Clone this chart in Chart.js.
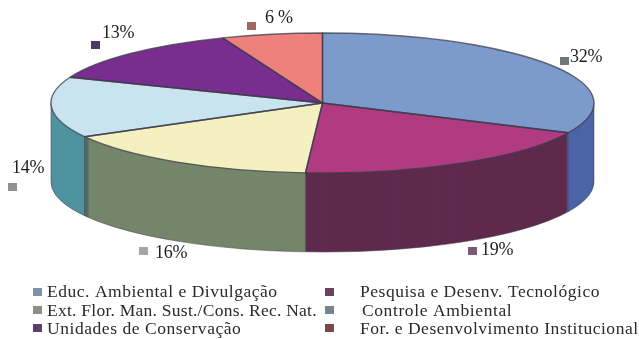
<!DOCTYPE html>
<html>
<head>
<meta charset="utf-8">
<script src="https://cdn.jsdelivr.net/npm/chart.js@4"></script>
<style>
html,body{margin:0;padding:0;background:#fff}
canvas{display:block}
</style>
</head>
<body>
<canvas id="pie" width="639" height="339"></canvas>
<script>
// Program areas and their share of the total (percent)
const categories = [
  'Educ. Ambiental e Divulgação',
  'Pesquisa e Desenv. Tecnológico',
  'Ext. Flor. Man. Sust./Cons. Rec. Nat.',
  'Controle Ambiental',
  'Unidades de Conservação',
  'For. e Desenvolvimento Institucional'
];
const shares = [32, 19, 16, 14, 13, 6];
const valueLabels = ['32%', '19%', '16%', '14%', '13%', '6 %'];

const topColors = ['#7c9bcc', '#b03b80', '#f4f0bf', '#c9e4ee', '#792d8e', '#ef817d'];
const wallColors = ['#4c64a8', '#5f2a4d', '#75866a', '#4f93a0', '#4a2460', '#a05050'];

// Tilted disc geometry
const DISC = {cx: 322.5, cy: 103, rx: 271.5, ry: 70, depth: 79};

// Where each value label and its marker sit
const LABEL_POS = [
  {x: 570, y: 62, sx: 560, sy: 57, c: '#72767c'},
  {x: 481, y: 255, sx: 468, sy: 247, c: '#7d5a72'},
  {x: 155, y: 258, sx: 139, sy: 247, c: '#a5a5a5'},
  {x: 12, y: 173, sx: 8, sy: 183, c: '#8f9193'},
  {x: 102, y: 38, sx: 91, sy: 41, c: '#4b3a68'},
  {x: 265, y: 23, sx: 247, sy: 22, c: '#a0685f'}
];

// Legend rows: text origin, tracking and marker position per entry
const LEGEND_POS = [
  {x: 47, y: 297, track: 0.53, sx: 33, sy: 288, c: '#7f90ad'},
  {x: 360, y: 297, track: 0.53, sx: 325, sy: 288, c: '#6f3f62'},
  {x: 47, y: 316, track: 0.25, sx: 33, sy: 306, c: '#8a8f88'},
  {x: 362, y: 316, track: 0.6, sx: 325, sy: 306, c: '#75858c'},
  {x: 47, y: 334, track: 0.55, sx: 33, sy: 324, c: '#5b3f70'},
  {x: 360, y: 334, track: 0.53, sx: 325, sy: 324, c: '#7a4a4a'}
];

// Maps the library's round pie onto the flattened ellipse, shifted down by dy
function applyDisc(ctx, arc, dy) {
  ctx.translate(DISC.cx, DISC.cy + dy);
  ctx.scale(DISC.rx / arc.outerRadius, DISC.ry / arc.outerRadius);
  ctx.translate(-arc.x, -arc.y);
}

const tiltedPie = {
  id: 'tiltedPie',
  beforeDatasetsDraw(chart) {
    const ctx = chart.ctx;
    const arcs = chart.getDatasetMeta(0).data;
    // Side wall: stacked copies of each slice in its darker colour
    for (let dy = DISC.depth; dy >= 1; dy--) {
      arcs.forEach((arc, i) => {
        const saved = arc.options;
        arc.options = Object.create(saved);
        arc.options.backgroundColor = wallColors[i];
        arc.options.borderColor = wallColors[i];
        ctx.save();
        applyDisc(ctx, arc, dy);
        arc.draw(ctx);
        ctx.restore();
        arc.options = saved;
      });
    }
    // Lower rim and silhouette edges
    ctx.save();
    ctx.strokeStyle = 'rgba(70,70,80,0.55)';
    ctx.lineWidth = 1;
    ctx.beginPath();
    ctx.ellipse(DISC.cx, DISC.cy + DISC.depth, DISC.rx, DISC.ry, 0, 0, Math.PI);
    ctx.moveTo(DISC.cx - DISC.rx, DISC.cy);
    ctx.lineTo(DISC.cx - DISC.rx, DISC.cy + DISC.depth);
    ctx.moveTo(DISC.cx + DISC.rx, DISC.cy);
    ctx.lineTo(DISC.cx + DISC.rx, DISC.cy + DISC.depth);
    ctx.stroke();
    // Vertical seams where the front slices meet; the left one shows a cut face
    arcs.forEach(arc => {
      const sin = Math.sin(arc.startAngle);
      const cos = Math.cos(arc.startAngle);
      if (sin > 0.02) {
        const x = DISC.cx + cos * DISC.rx;
        const y = DISC.cy + sin * DISC.ry;
        if (cos < -0.5) {
          ctx.fillStyle = '#4f6b64';
          ctx.beginPath();
          ctx.moveTo(x, y);
          ctx.lineTo(x + 4, y + 2);
          ctx.lineTo(x + 4, y + DISC.depth + 2);
          ctx.lineTo(x, y + DISC.depth);
          ctx.closePath();
          ctx.fill();
        }
        ctx.beginPath();
        ctx.moveTo(x, y);
        ctx.lineTo(x, y + DISC.depth);
        ctx.stroke();
      }
    });
    ctx.restore();
    // The regular dataset draw that follows becomes the top face
    ctx.save();
    applyDisc(ctx, arcs[0], 0);
  },
  afterDatasetsDraw(chart) {
    const ctx = chart.ctx;
    ctx.restore();
    // Slice outlines, built under the disc transform and stroked at even width
    ctx.save();
    ctx.strokeStyle = 'rgba(60,60,75,0.75)';
    ctx.lineWidth = 1.4;
    ctx.lineJoin = 'round';
    chart.getDatasetMeta(0).data.forEach(arc => {
      ctx.save();
      applyDisc(ctx, arc, 0);
      ctx.beginPath();
      ctx.moveTo(arc.x, arc.y);
      ctx.arc(arc.x, arc.y, arc.outerRadius, arc.startAngle, arc.endAngle);
      ctx.closePath();
      ctx.restore();
      ctx.stroke();
    });
    ctx.restore();
  },
  afterDraw(chart) {
    const ctx = chart.ctx;
    ctx.save();
    ctx.textBaseline = 'alphabetic';
    ctx.textAlign = 'left';
    ctx.font = '18px "Liberation Serif"';
    ctx.letterSpacing = '-0.2px';
    valueLabels.forEach((t, i) => {
      const p = LABEL_POS[i];
      ctx.fillStyle = p.c;
      ctx.fillRect(p.sx, p.sy, 9, 8);
      ctx.fillStyle = '#1e1e1e';
      ctx.fillText(t, p.x, p.y);
    });
    ctx.font = '17.5px "Liberation Serif"';
    categories.forEach((t, i) => {
      const p = LEGEND_POS[i];
      ctx.fillStyle = p.c;
      ctx.fillRect(p.sx, p.sy, 9, 8);
      ctx.letterSpacing = p.track + 'px';
      ctx.fillStyle = '#2a2a2a';
      ctx.fillText(t, p.x, p.y);
    });
    ctx.restore();
  }
};

new Chart(document.getElementById('pie'), {
  type: 'pie',
  data: {
    labels: categories,
    datasets: [{data: shares, backgroundColor: topColors, borderWidth: 0, hoverOffset: 0}]
  },
  options: {
    responsive: false,
    animation: false,
    events: [],
    plugins: {legend: {display: false}, tooltip: {enabled: false}}
  },
  plugins: [tiltedPie]
});
</script>
</body>
</html>
